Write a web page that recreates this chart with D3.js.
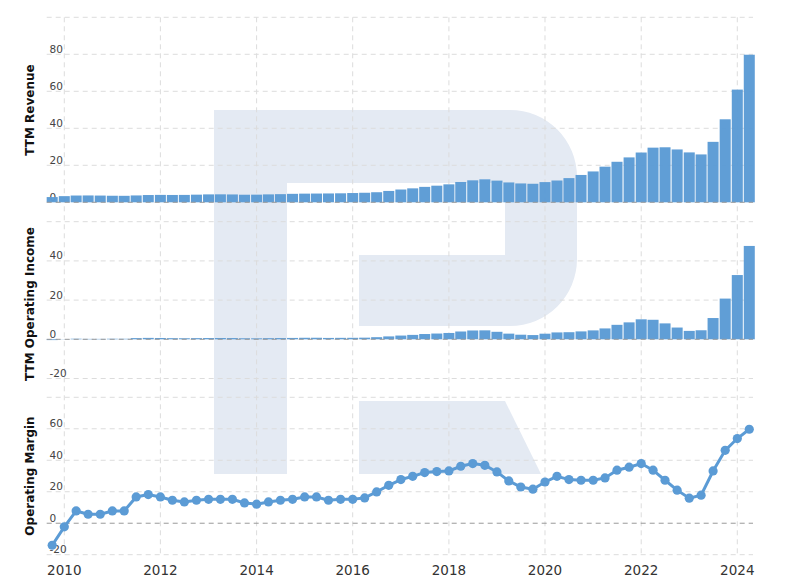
<!DOCTYPE html>
<html>
<head>
<meta charset="utf-8">
<script src="https://cdn.jsdelivr.net/npm/d3@7"></script>
<style>
    body { margin: 0; background: #fff; }
    #chart { width: 791px; height: 583px; }
    text { font-family: "DejaVu Sans", Verdana, sans-serif; }
</style>
</head>
<body>
<div id="chart"></div>
<script>
// quarterly TTM figures, billions USD / percent
const quarters = [
    "2009-10",
    "2010-01", "2010-04", "2010-07", "2010-10",
    "2011-01", "2011-04", "2011-07", "2011-10",
    "2012-01", "2012-04", "2012-07", "2012-10",
    "2013-01", "2013-04", "2013-07", "2013-10",
    "2014-01", "2014-04", "2014-07", "2014-10",
    "2015-01", "2015-04", "2015-07", "2015-10",
    "2016-01", "2016-04", "2016-07", "2016-10",
    "2017-01", "2017-04", "2017-07", "2017-10",
    "2018-01", "2018-04", "2018-07", "2018-10",
    "2019-01", "2019-04", "2019-07", "2019-10",
    "2020-01", "2020-04", "2020-07", "2020-10",
    "2021-01", "2021-04", "2021-07", "2021-10",
    "2022-01", "2022-04", "2022-07", "2022-10",
    "2023-01", "2023-04", "2023-07", "2023-10",
    "2024-01", "2024-04"
];

const ttmRevenue = [
    2.83,
    3.33, 3.66, 3.70, 3.64,
    3.54, 3.50, 3.71, 3.93,
    4.00, 3.96, 3.99, 4.13,
    4.28, 4.31, 4.24, 4.09,
    4.13, 4.28, 4.40, 4.58,
    4.68, 4.73, 4.78, 4.86,
    5.01, 5.16, 5.44, 6.14,
    6.91, 7.54, 8.34, 8.98,
    9.71, 10.98, 11.88, 12.42,
    11.72, 10.73, 10.19, 10.02,
    10.92, 11.78, 13.07, 14.78,
    16.68, 19.26, 21.90, 24.27,
    26.91, 29.54, 29.74, 28.57,
    26.97, 25.88, 32.68, 44.87,
    60.92, 79.77
];

const ttmOperatingIncome = [
    -0.40,
    -0.08, 0.29, 0.21, 0.21,
    0.28, 0.27, 0.62, 0.72,
    0.67, 0.58, 0.54, 0.60,
    0.65, 0.66, 0.64, 0.53,
    0.50, 0.58, 0.64, 0.70,
    0.78, 0.79, 0.70, 0.74,
    0.76, 0.83, 1.08, 1.48,
    1.91, 2.25, 2.69, 2.94,
    3.23, 3.98, 4.50, 4.57,
    3.82, 2.89, 2.34, 2.16,
    2.86, 3.51, 3.62, 4.03,
    4.55, 5.55, 7.38, 8.64,
    10.20, 9.96, 8.12, 6.00,
    4.29, 4.61, 10.85, 20.77,
    32.78, 47.63
];

const operatingMargin = [
    -14.0,
    -2.3, 7.8, 5.7, 5.7,
    7.8, 7.8, 16.7, 18.2,
    16.7, 14.6, 13.5, 14.6,
    15.2, 15.2, 15.2, 12.9,
    12.1, 13.5, 14.6, 15.2,
    16.7, 16.7, 14.6, 15.2,
    15.2, 16.1, 19.9, 24.1,
    27.7, 29.8, 32.2, 32.8,
    33.2, 36.2, 37.9, 36.8,
    32.6, 26.9, 23.0, 21.6,
    26.2, 29.8, 27.7, 27.3,
    27.3, 28.8, 33.7, 35.6,
    37.9, 33.7, 27.3, 21.0,
    15.9, 17.8, 33.2, 46.3,
    53.8, 59.7
];

const yearTicks = [2010, 2012, 2014, 2016, 2018, 2020, 2022, 2024];
const revenueTicks = [0, 20, 40, 60, 80, 100];
const incomeTicks = [-20, 0, 20, 40, 60];
const marginTicks = [-20, 0, 20, 40, 60, 80];


class StackedPanels {

    constructor(opts) {
        this.element = opts.element;
        this.panels = opts.panels;
        this.width = 791;
        this.height = 583;
        this.left = 46.7;
        this.right = 753;
        this.color = '#5b9bd5';
        this.create();
    }

    create() {
        const parse = d3.timeParse('%Y-%m');
        this.dates = quarters.map(parse);

        this.svg = d3.select(this.element).append('svg')
            .attr('width', this.width)
            .attr('height', this.height);

        this.x = d3.scaleTime()
            .domain([new Date(2010, 0, 1), new Date(2024, 0, 1)])
            .range([64.3, 737.3]);

        // pitch between quarters, 1px gap between bars
        const pitch = (this.x(this.dates[this.dates.length - 1]) - this.x(this.dates[0])) / (this.dates.length - 1);
        this.barW = pitch - 1;

        this.drawWatermark();
        this.drawVerticalGrid();
        this.panels.forEach(p => this.drawPanel(p));
        this.drawXAxis();
    }

    drawWatermark() {
        const g = this.svg.append('g').attr('fill', '#e4eaf3');
        g.append('path')
            .attr('d', 'M214,110 H510 A67,67 0 0 1 577,177 V259 A67,67 0 0 1 510,326 H359 V255 H505 V183 H287 V474 H214 Z');
        g.append('path')
            .attr('d', 'M359,401 H505 L541,474 H359 Z');
    }

    drawVerticalGrid() {
        this.svg.append('g')
            .selectAll('line')
            .data(yearTicks)
            .join('line')
            .attr('x1', d => this.x(new Date(d, 0, 1)))
            .attr('x2', d => this.x(new Date(d, 0, 1)))
            .attr('y1', 17.3)
            .attr('y2', 555)
            .attr('stroke', '#dcdcdc')
            .attr('stroke-dasharray', '5,4');
    }

    drawPanel(p) {
        const y = d3.scaleLinear().domain(p.domain).range(p.range);
        const g = this.svg.append('g');
        const top = d3.max(p.ticks);

        g.selectAll('line.grid')
            .data(p.ticks.filter(t => t !== 0))
            .join('line')
            .classed('grid', true)
            .attr('x1', this.left)
            .attr('x2', this.right)
            .attr('y1', d => y(d))
            .attr('y2', d => y(d))
            .attr('stroke', '#dcdcdc')
            .attr('stroke-dasharray', '5,4');

        g.selectAll('text.tick')
            .data(p.ticks.filter(t => t !== top))
            .join('text')
            .classed('tick', true)
            .attr('x', 49.5)
            .attr('y', d => y(d) - 1.5)
            .attr('font-size', '10.5px')
            .attr('fill', '#444')
            .text(d => d);

        const data = p.values.map((v, i) => ({date: this.dates[i], value: v}));

        if (p.type === 'bar') {
            g.selectAll('rect')
                .data(data)
                .join('rect')
                .attr('x', d => this.x(d.date) - this.barW / 2)
                .attr('width', this.barW)
                .attr('y', d => Math.min(y(0), y(d.value)))
                .attr('height', d => Math.abs(y(d.value) - y(0)))
                .attr('fill', this.color)
                .attr('fill-opacity', 0.97);
        }

        // zero line sits over the marks
        g.append('line')
            .attr('x1', this.left)
            .attr('x2', this.right)
            .attr('y1', y(0))
            .attr('y2', y(0))
            .attr('stroke', '#999')
            .attr('stroke-dasharray', '5,4');

        if (p.type === 'line') {
            const line = d3.line()
                .x(d => this.x(d.date))
                .y(d => y(d.value));
            g.append('path')
                .datum(data)
                .attr('d', line)
                .attr('fill', 'none')
                .attr('stroke', this.color)
                .attr('stroke-width', 3);
            g.selectAll('circle')
                .data(data)
                .join('circle')
                .attr('cx', d => this.x(d.date))
                .attr('cy', d => y(d.value))
                .attr('r', 4.6)
                .attr('fill', this.color);
        }

        g.append('text')
            .attr('transform', `translate(34,${p.titleY}) rotate(-90)`)
            .attr('text-anchor', 'middle')
            .attr('font-size', '12px')
            .attr('font-weight', 'bold')
            .attr('fill', '#111')
            .text(p.title);
    }

    drawXAxis() {
        this.svg.append('g')
            .selectAll('text')
            .data(yearTicks)
            .join('text')
            .attr('x', d => this.x(new Date(d, 0, 1)))
            .attr('y', 575)
            .attr('text-anchor', 'middle')
            .attr('font-size', '13.5px')
            .attr('fill', '#333')
            .text(d => d);
    }
}

const chart = new StackedPanels({
    element: document.getElementById('chart'),
    panels: [
        {title: 'TTM Revenue', type: 'bar', values: ttmRevenue, ticks: revenueTicks,
         domain: [-10, 100], range: [220.8, 17.3], titleY: 110},
        {title: 'TTM Operating Income', type: 'bar', values: ttmOperatingIncome, ticks: incomeTicks,
         domain: [-30, 60], range: [398.1, 221.7], titleY: 304},
        {title: 'Operating Margin', type: 'line', values: operatingMargin, ticks: marginTicks,
         domain: [-20, 80], range: [554.7, 397.3], titleY: 476}
    ]
});
</script>
</body>
</html>
